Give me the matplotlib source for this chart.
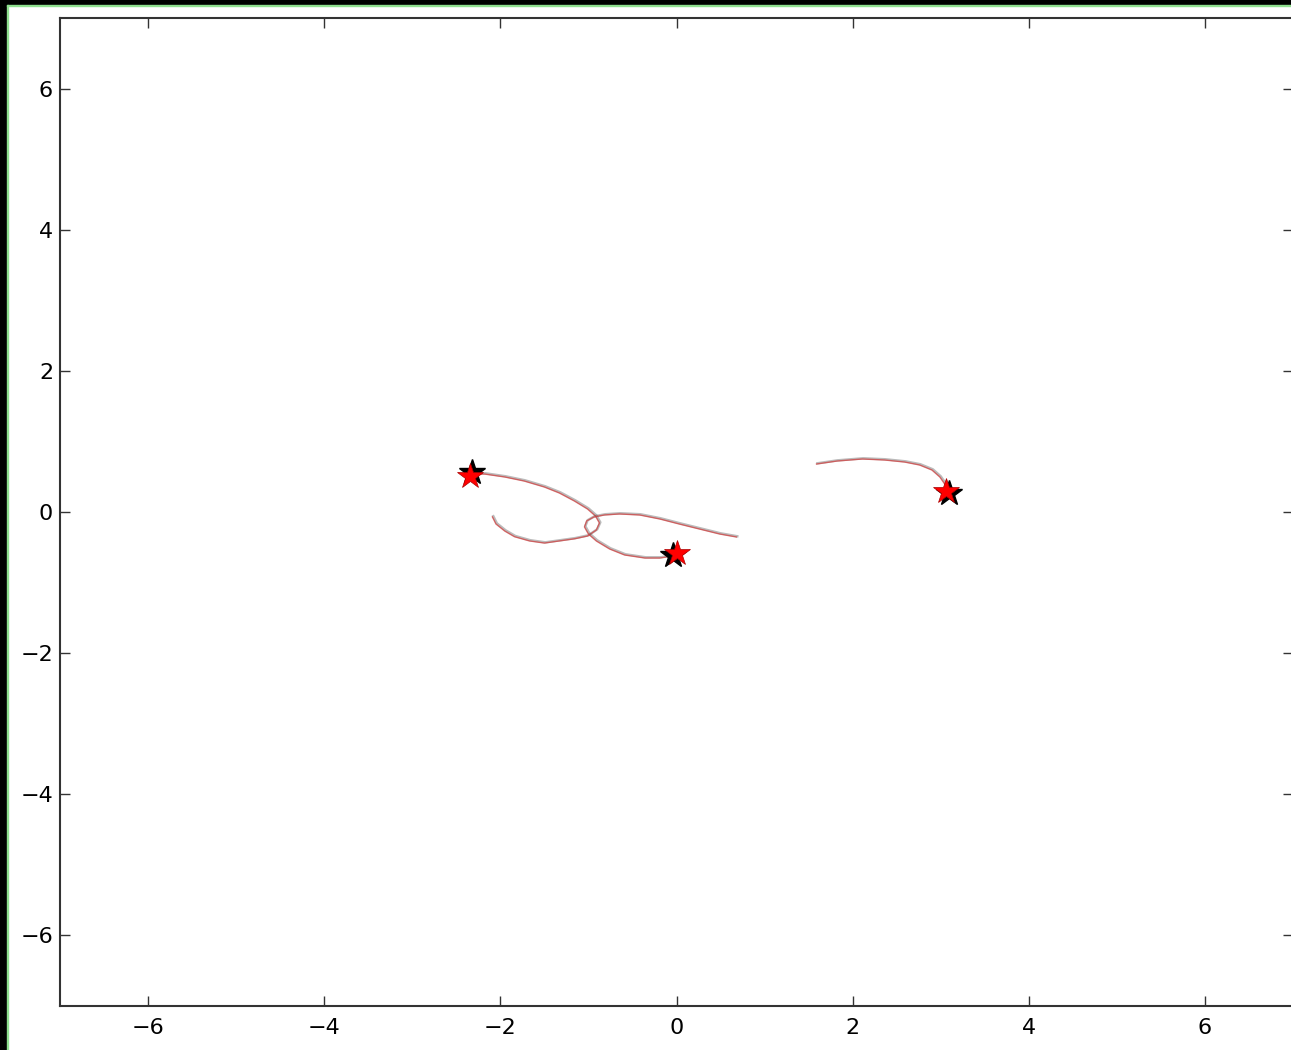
import matplotlib
matplotlib.use('Agg')
import matplotlib.pyplot as plt
from matplotlib.patches import Rectangle

# drahy troch telies (stara cast -> aktualna poloha)
trail1_x = [-2.09, -2.05, -1.95, -1.84, -1.67, -1.50, -1.33, -1.16, -1.01, -0.91,
            -0.875, -0.92, -1.01, -1.16, -1.33, -1.50, -1.73, -1.95, -2.18, -2.33]
trail1_y = [-0.07, -0.17, -0.27, -0.35, -0.41, -0.44, -0.41, -0.38, -0.34, -0.255,
            -0.156, -0.057, 0.042, 0.156, 0.269, 0.354, 0.439, 0.496, 0.538, 0.538]

trail2_x = [0.68, 0.49, 0.26, 0.03, -0.19, -0.42, -0.65, -0.82, -0.94, -1.02,
            -1.045, -1.00, -0.91, -0.76, -0.59, -0.36, -0.19, -0.045]
trail2_y = [-0.354, -0.312, -0.241, -0.170, -0.099, -0.042, -0.028, -0.042, -0.071, -0.127,
            -0.212, -0.312, -0.411, -0.524, -0.609, -0.652, -0.652, -0.623]

trail3_x = [1.59, 1.82, 2.11, 2.36, 2.59, 2.76, 2.90, 2.99, 3.045, 3.068]
trail3_y = [0.680, 0.722, 0.751, 0.737, 0.708, 0.666, 0.595, 0.496, 0.397, 0.326]

# aktualne polohy (cierna a cervena simulacia)
black_x = [-2.32, -0.045, 3.09]
black_y = [0.57, -0.61, 0.27]
red_x = [-2.35, 0.01, 3.06]
red_y = [0.51, -0.58, 0.30]

ticks = [-6, -4, -2, 0, 2, 4, 6]

fig = plt.figure(figsize=(12.91, 10.5), dpi=100, facecolor='white')
ax = fig.add_axes([60 / 1291, 1 - 1006 / 1050, 1233 / 1291, 988 / 1050])

for tx, ty in [(trail1_x, trail1_y), (trail2_x, trail2_y), (trail3_x, trail3_y)]:
    ax.plot([v + 0.01 for v in tx], [v + 0.01 for v in ty], color='#555555', lw=1.8, alpha=0.4)
    ax.plot(tx, ty, color='#d04040', lw=1.0, alpha=0.75)

ax.plot(black_x, black_y, '*', color='black', ms=19, mec='black')
ax.plot(red_x, red_y, '*', color='red', ms=19, mec='#aa0000', mew=0.5)

ax.set_xlim(-7, 7)
ax.set_ylim(-7, 7)
ax.set_xticks(ticks)
ax.set_yticks(ticks)
labels = ['\u2212' + str(-t) if t < 0 else str(t) for t in ticks]
ax.set_xticklabels(labels)
ax.set_yticklabels(labels)
ax.tick_params(direction='in', length=7, width=1, labelsize=16, top=True, right=True,
               colors='#333333', labelcolor='black')
ax.tick_params(axis='x', pad=9)
ax.tick_params(axis='y', pad=5)
for s in ax.spines.values():
    s.set_linewidth(1.5)
    s.set_color('#333333')

# cierny okraj snimky obrazovky
fig.patches.append(Rectangle((0, 0), 7 / 1291, 1, transform=fig.transFigure, color='black'))
fig.patches.append(Rectangle((0, 1 - 5 / 1050), 1, 5 / 1050, transform=fig.transFigure, color='black'))
fig.patches.append(Rectangle((7 / 1291, 0), 1 / 1291, 1 - 5 / 1050, transform=fig.transFigure, color='#90e090'))
fig.patches.append(Rectangle((7 / 1291, 1 - 6 / 1050), 1, 1 / 1050, transform=fig.transFigure, color='#90e090'))

fig.savefig('out.png', dpi=100, facecolor='white')
